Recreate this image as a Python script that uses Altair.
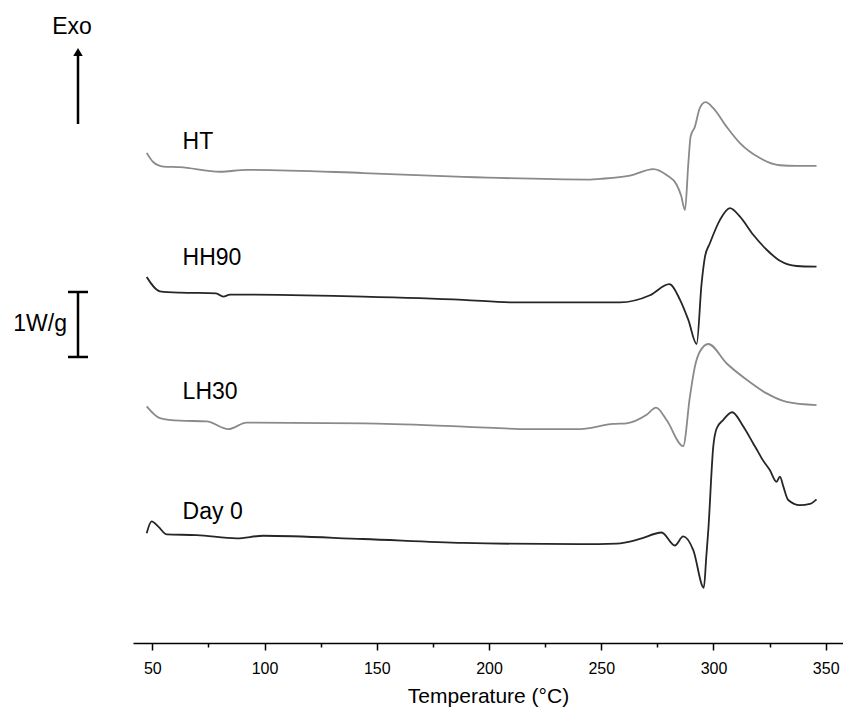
import altair as alt
import pandas as pd

# ---- data (temperature in °C, offset heat flow in W/g) ----
series_names = ["HT", "HH90", "LH30", "Day 0"]
series_colors = ["#8a8a8a", "#262626", "#8a8a8a", "#262626"]

ht_T = [47.5, 50.4, 54.9, 62.3, 80.2, 92.0, 144.0, 188.5, 245.0, 249.4, 262.8, 273.2, 279.1,
        283.6, 285.6, 287.3, 288.8, 289.8, 291.7, 293.9, 296.5, 299.9, 305.9, 311.8, 320.7,
        329.6, 337.0, 345.9]
ht_v = [7.54, 7.40, 7.33, 7.32, 7.25, 7.28, 7.23, 7.17, 7.13, 7.14, 7.19, 7.29, 7.20,
        7.05, 6.88, 6.66, 7.38, 7.79, 7.94, 8.23, 8.32, 8.23, 7.94, 7.69, 7.46,
        7.35, 7.34, 7.34]

hh_T = [47.5, 53.4, 62.3, 78.4, 81.6, 84.6, 144.0, 188.5, 210.8, 245.0, 258.3, 271.7, 280.3,
        285.1, 288.8, 292.5, 294.7, 296.2, 298.4, 302.9, 307.3, 311.8, 317.7, 323.7, 329.6,
        337.0, 345.9]
hh_v = [5.63, 5.41, 5.39, 5.38, 5.33, 5.36, 5.33, 5.28, 5.24, 5.24, 5.24, 5.35, 5.52,
        5.28, 4.97, 4.60, 5.53, 5.94, 6.15, 6.51, 6.69, 6.56, 6.28, 6.05, 5.88,
        5.80, 5.79]

lh_T = [47.5, 53.4, 62.3, 74.2, 83.9, 92.0, 144.0, 188.5, 218.2, 240.5, 255.3, 261.3, 270.2,
        274.4, 279.1, 286.5, 289.5, 291.7, 293.9, 297.7, 305.9, 314.8, 323.7, 332.6, 345.9]
lh_v = [3.64, 3.46, 3.42, 3.41, 3.29, 3.39, 3.38, 3.33, 3.29, 3.29, 3.37, 3.38, 3.51,
        3.62, 3.43, 3.03, 3.79, 4.25, 4.48, 4.60, 4.30, 4.05, 3.84, 3.71, 3.66]

d0_T = [47.5, 49.7, 52.7, 56.4, 69.8, 87.6, 99.4, 144.0, 188.5, 240.5, 256.9, 267.2, 276.9,
        282.8, 286.5, 291.0, 295.7, 296.8, 297.7, 299.9, 301.4, 304.3, 308.3, 313.3, 317.7,
        319.9, 321.5, 325.1, 328.1, 329.6, 331.1, 333.3, 338.5, 343.0, 345.9]
d0_v = [1.69, 1.87, 1.79, 1.67, 1.66, 1.61, 1.65, 1.60, 1.54, 1.52, 1.53, 1.60, 1.70,
        1.50, 1.64, 1.43, 0.85, 1.33, 1.74, 3.02, 3.30, 3.43, 3.55, 3.33, 3.07,
        2.94, 2.84, 2.66, 2.48, 2.56, 2.41, 2.20, 2.12, 2.14, 2.21]

label_T = [63.5, 63.5, 63.5, 63.5]
label_v = [7.71, 5.92, 3.86, 2.02]

scale_bar_v = [4.40, 5.40]   # 1 W/g

x_tick_values = [50, 62.5, 75, 87.5, 100, 112.5, 125, 137.5, 150, 162.5, 175, 187.5, 200,
                 212.5, 225, 237.5, 250, 262.5, 275, 287.5, 300, 312.5, 325, 337.5, 350]

# ---- build tables ----
rows = []
for name, Ts, vs in zip(series_names, [ht_T, hh_T, lh_T, d0_T], [ht_v, hh_v, lh_v, d0_v]):
    for t, v in zip(Ts, vs):
        rows.append({"series": name, "T": t, "v": v})
df = pd.DataFrame(rows)
labels_df = pd.DataFrame({"series": series_names, "T": label_T, "v": label_v})
bar_df = pd.DataFrame({"lo": [scale_bar_v[0]], "hi": [scale_bar_v[1]]})
cap_df = pd.DataFrame({"v": scale_bar_v})
one = pd.DataFrame({"k": [0]})

FONT = "Liberation Sans"
xscale = alt.Scale(domain=[41.4, 357.7], nice=False, zero=False)
yscale = alt.Scale(domain=[0, 9.892], nice=False, zero=False)

xaxis = alt.Axis(
    values=x_tick_values,
    labelExpr="datum.value % 50 === 0 ? datum.label : ''",
    tickSize={"condition": {"test": "datum.value % 50 === 0", "value": 7}, "value": 4},
    tickColor="black", tickWidth=1.5, domainColor="black", domainWidth=1.5,
    labelFont=FONT, labelFontSize=16, labelColor="black", labelPadding=10,
    labelFlush=False, labelOverlap=False,
    title="Temperature (°C)", titleFont=FONT, titleFontSize=21, titleFontWeight="normal",
    titleColor="black", titleBaseline="alphabetic", titleY=59, grid=False,
)

lines = alt.Chart(df).mark_line(interpolate="monotone", strokeWidth=1.8).encode(
    x=alt.X("T:Q", scale=xscale, axis=xaxis),
    y=alt.Y("v:Q", scale=yscale, axis=None),
    color=alt.Color("series:N", scale=alt.Scale(domain=series_names, range=series_colors), legend=None),
    detail="series:N",
)

texts = alt.Chart(labels_df).mark_text(
    font=FONT, fontSize=23, align="left", baseline="middle", color="black"
).encode(
    x=alt.X("T:Q", scale=xscale),
    y=alt.Y("v:Q", scale=yscale, axis=None),
    text="series:N",
)

bar = alt.Chart(bar_df).mark_rule(color="black", strokeWidth=2.5).encode(
    x=alt.value(-55),
    y=alt.Y("lo:Q", scale=yscale, axis=None),
    y2="hi:Q",
)
caps = alt.Chart(cap_df).mark_rule(color="black", strokeWidth=2.5).encode(
    x=alt.value(-65), x2=alt.value(-45),
    y=alt.Y("v:Q", scale=yscale, axis=None),
)
bar_label = alt.Chart(one).mark_text(
    text="1W/g", font=FONT, fontSize=23, align="right", baseline="middle", color="black"
).encode(x=alt.value(-66), y=alt.value(324))

arrow = alt.Chart(one).mark_rule(color="black", strokeWidth=2.5).encode(
    x=alt.value(-55), y=alt.value(124), y2=alt.value(56)
)
arrow_head = alt.Chart(one).mark_point(
    shape="triangle-up", filled=True, size=90, color="black", opacity=1
).encode(x=alt.value(-55), y=alt.value(52))
exo = alt.Chart(one).mark_text(
    text="Exo", font=FONT, fontSize=23, align="center", baseline="middle", color="black"
).encode(x=alt.value(-61), y=alt.value(27))

chart = alt.layer(lines, texts, bar, caps, bar_label, arrow, arrow_head, exo).properties(
    width=710, height=643,
    autosize=alt.AutoSizeParams(type="none"),
    padding={"left": 133, "top": 0, "right": 0, "bottom": 66},
).configure(background="white").configure_view(stroke=None, strokeWidth=0)

chart.save("out.html", embed_options={"renderer": "svg", "actions": False})
